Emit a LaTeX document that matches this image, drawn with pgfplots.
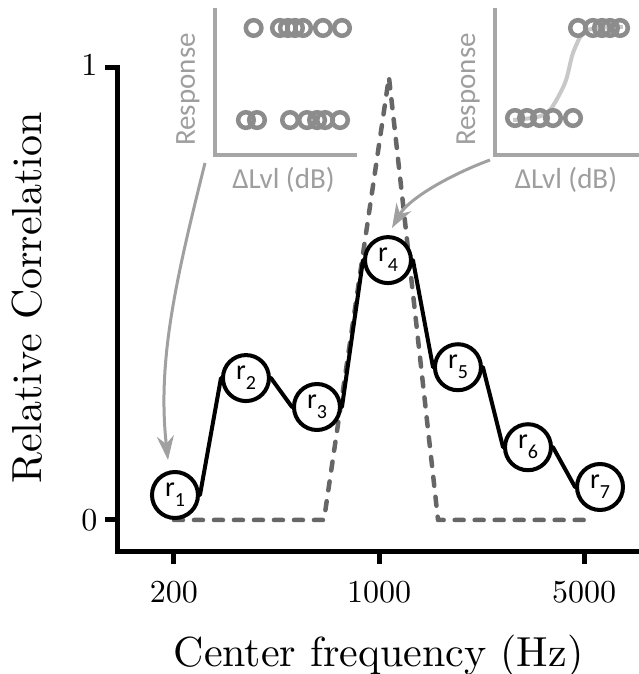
\RequirePackage{fix-cm}
\documentclass[border=0pt]{standalone}
\usepackage{fontspec}
\setmainfont{lmroman10-regular}[Extension=.otf]
\usepackage{pgfplots}
\pgfplotsset{compat=1.18}
\usetikzlibrary{arrows.meta}
\newfontfamily\carlito{Carlito}
\definecolor{dashgray}{HTML}{666666}
\definecolor{ringgray}{HTML}{8C8C8C}
\definecolor{spinegray}{HTML}{A6A6A6}
\definecolor{textgray}{HTML}{9E9E9E}
\definecolor{siggray}{HTML}{C8C8C8}
\definecolor{arrowgray}{HTML}{A0A0A0}
\newcommand{\rl}[1]{{\carlito\fontsize{28}{28}\selectfont r\raisebox{-0.36em}{\fontsize{20}{20}\selectfont #1}}}
\begin{document}
\begin{tikzpicture}
% ---------- main axis ----------
\begin{axis}[
  at={(117pt,122pt)}, anchor=south west, scale only axis,
  width=521pt, height=484pt,
  xmode=log, xmin=127.9, xmax=7635, ymin=-0.0708, ymax=1,
  axis x line*=bottom, axis y line*=left,
  axis line style={line width=5pt, black, line cap=rect, -},
  xtick={200,1000,5000}, xticklabels={\textrm{200},\textrm{1000},\textrm{5000}},
  minor xtick={}, ytick={0,1}, yticklabels={\textrm{0},\raisebox{6pt}{\textrm{1}}},
  tick align=outside, major tick length=12pt,
  tick style={line width=5pt, black},
  ticklabel style={font=\fontsize{32}{32}\selectfont},
  xticklabel style={yshift=-14pt},
  yticklabel style={xshift=-4pt},
  xlabel={Center frequency (Hz)}, ylabel={Relative Correlation},
  label style={font=\fontsize{42}{42}\selectfont},
  xlabel style={at={(rel axis cs:0.502,-0.2376)}, anchor=base},
  ylabel style={at={(rel axis cs:-0.144,0.525)}, anchor=base},
  clip=false,
]
\addplot[dashgray, line width=4.5pt, dash pattern=on 9pt off 11pt, line cap=round, line join=round]
  coordinates {(200,0) (649,0) (1081,0.98) (1589,0) (5000,0)};
\addplot[black, line width=4pt, line join=round]
  coordinates {(201.6,0.0553) (245.3,0.0553) (289.2,0.314) (428.2,0.314)
               (505,0.25) (747.6,0.25) (881.6,0.575) (1305,0.575)
               (1527.6,0.338) (2261,0.338) (2646,0.161) (3917,0.161)
               (4656,0.073) (5665,0.073)};
\addplot[only marks, mark=*, mark size=23pt,
  mark options={draw=black, fill=white, line width=4pt},
  nodes near coords, point meta=explicit symbolic,
  nodes near coords align={center},
  every node near coord/.style={anchor=center, inner sep=0pt, text=black}]
  coordinates {(201.6,0.0553) [\rl{1}] (351.9,0.314) [\rl{2}] (614.4,0.25) [\rl{3}]
               (1072.7,0.575) [\rl{4}] (1858,0.338) [\rl{5}] (3219,0.161) [\rl{6}]
               (5665,0.073) [\rl{7}]};
\end{axis}
% ---------- inset 1 ----------
\begin{axis}[
  at={(215pt,519pt)}, anchor=south west, scale only axis,
  width=140pt, height=145pt,
  xmin=0, xmax=1, ymin=0, ymax=1,
  axis x line*=bottom, axis y line*=left,
  axis line style={line width=3.5pt, spinegray, line cap=rect, -},
  xtick=\empty, ytick=\empty, clip=false,
  xlabel={ΔLvl (dB)}, ylabel={Response},
  label style={font=\carlito\fontsize{29}{29}\selectfont, text=textgray},
  xlabel style={at={(rel axis cs:0.489,-0.228)}, anchor=base},
  ylabel style={at={(rel axis cs:-0.143,0.452)}, anchor=base},
]
\addplot[only marks, mark=o, mark size=7.8pt, ringgray, mark options={line width=4.5pt}]
  coordinates {(0.276,0.876) (0.464,0.876) (0.521,0.876) (0.571,0.876) (0.629,0.876) (0.771,0.876) (0.907,0.876)
               (0.221,0.241) (0.300,0.241) (0.536,0.241) (0.657,0.241) (0.729,0.241) (0.786,0.241) (0.893,0.241)};
\end{axis}
% ---------- inset 2 ----------
\begin{axis}[
  at={(495pt,519pt)}, anchor=south west, scale only axis,
  width=150pt, height=145pt,
  xmin=0, xmax=1.0714, ymin=0, ymax=1,
  axis x line*=bottom, axis y line*=left,
  axis line style={line width=3.5pt, spinegray, line cap=rect, -},
  xtick=\empty, ytick=\empty, clip=false,
  xlabel={ΔLvl (dB)}, ylabel={Response},
  label style={font=\carlito\fontsize{29}{29}\selectfont, text=textgray},
  xlabel style={at={(rel axis cs:0.473,-0.228)}, anchor=base},
  ylabel style={at={(rel axis cs:-0.133,0.452)}, anchor=base},
]
\addplot[siggray, line width=4pt, smooth]
  coordinates {(0.129,0.241) (0.30,0.262) (0.393,0.31) (0.5,0.497) (0.557,0.703) (0.629,0.841) (0.729,0.876) (0.914,0.883)};
\addplot[only marks, mark=o, mark size=7.8pt, ringgray, mark options={line width=4.5pt}]
  coordinates {(0.593,0.876) (0.700,0.876) (0.764,0.876) (0.821,0.876) (0.893,0.876)
               (0.143,0.255) (0.229,0.255) (0.321,0.255) (0.414,0.255) (0.557,0.255)};
\end{axis}
% ---------- arrows ----------
\draw[arrowgray, line width=3pt, -{Stealth[length=24pt, width=17pt]}]
  (205pt,511pt) .. controls (176pt,395pt) and (157pt,313pt) .. (168pt,214pt);
\draw[arrowgray, line width=3pt, -{Stealth[length=24pt, width=17pt]}]
  (490pt,514pt) .. controls (452pt,500pt) and (409pt,476pt) .. (392pt,446pt);
\pgfresetboundingbox
\path[use as bounding box] (0,0) rectangle (638pt,674pt);
\end{tikzpicture}
\end{document}
